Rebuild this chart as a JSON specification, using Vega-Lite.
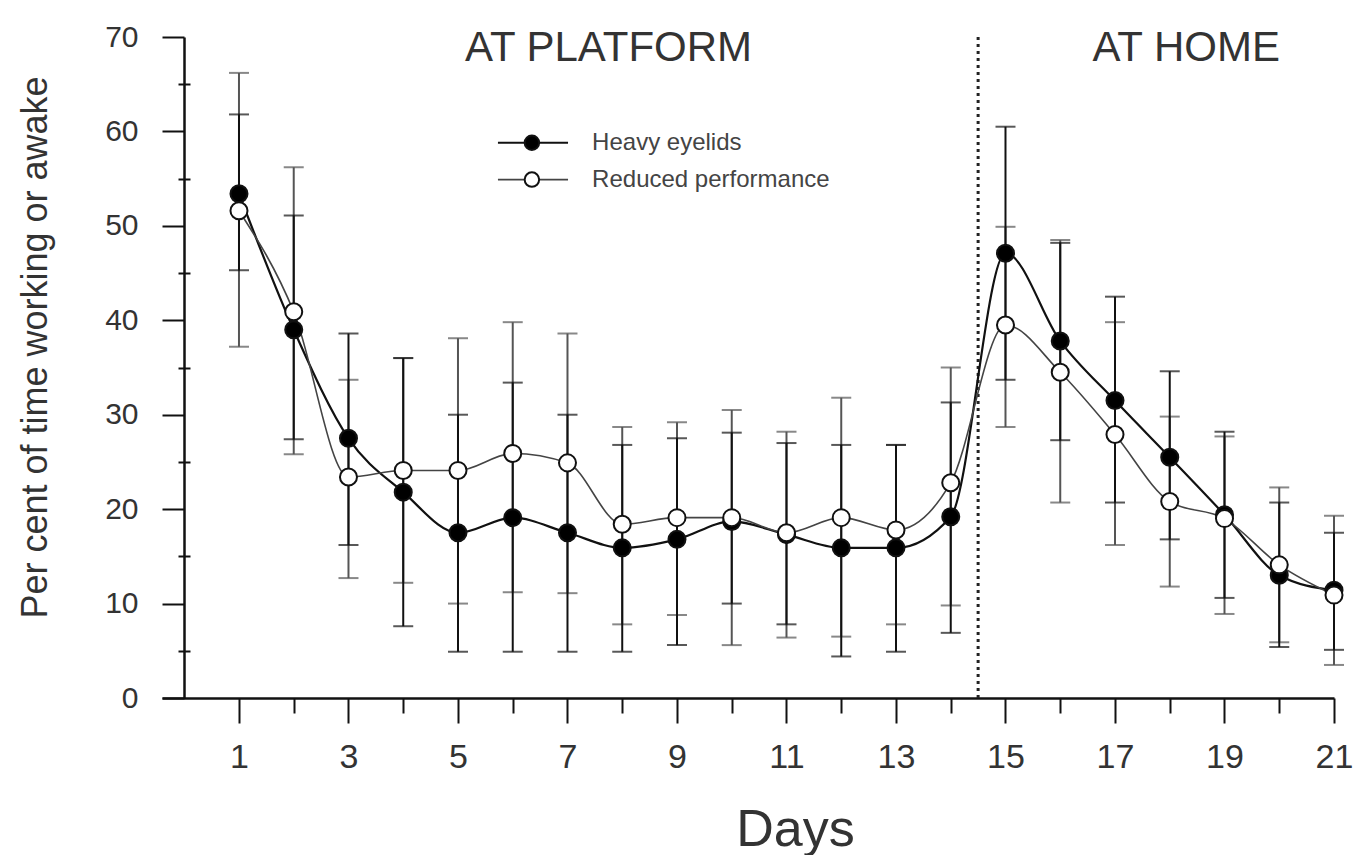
{
  "$schema": "https://vega.github.io/schema/vega-lite/v6.json",
  "width": 1172,
  "height": 661,
  "autosize": {"type": "none"},
  "padding": {"left": 162, "top": 37, "right": 19, "bottom": 157},
  "background": "white",
  "config": {"view": {"stroke": null}, "font": "Liberation Sans"},
  "datasets": {
    "obs": [
      {"day": 1, "series": "Heavy eyelids", "value": 53.4, "lo": 45.3, "hi": 61.8},
      {"day": 2, "series": "Heavy eyelids", "value": 39.0, "lo": 27.4, "hi": 51.1},
      {"day": 3, "series": "Heavy eyelids", "value": 27.5, "lo": 16.2, "hi": 38.6},
      {"day": 4, "series": "Heavy eyelids", "value": 21.8, "lo": 7.6, "hi": 36.0},
      {"day": 5, "series": "Heavy eyelids", "value": 17.5, "lo": 4.9, "hi": 30.0},
      {"day": 6, "series": "Heavy eyelids", "value": 19.1, "lo": 4.9, "hi": 33.4},
      {"day": 7, "series": "Heavy eyelids", "value": 17.5, "lo": 4.9, "hi": 30.0},
      {"day": 8, "series": "Heavy eyelids", "value": 15.9, "lo": 4.9, "hi": 26.8},
      {"day": 9, "series": "Heavy eyelids", "value": 16.8, "lo": 5.6, "hi": 27.5},
      {"day": 10, "series": "Heavy eyelids", "value": 18.7, "lo": 10.0, "hi": 28.1},
      {"day": 11, "series": "Heavy eyelids", "value": 17.3, "lo": 7.8, "hi": 27.0},
      {"day": 12, "series": "Heavy eyelids", "value": 15.9, "lo": 4.4, "hi": 26.8},
      {"day": 13, "series": "Heavy eyelids", "value": 15.9, "lo": 4.9, "hi": 26.8},
      {"day": 14, "series": "Heavy eyelids", "value": 19.2, "lo": 6.9, "hi": 31.3},
      {"day": 15, "series": "Heavy eyelids", "value": 47.1, "lo": 33.7, "hi": 60.5},
      {"day": 16, "series": "Heavy eyelids", "value": 37.8, "lo": 27.3, "hi": 48.2},
      {"day": 17, "series": "Heavy eyelids", "value": 31.5, "lo": 20.7, "hi": 42.5},
      {"day": 18, "series": "Heavy eyelids", "value": 25.5, "lo": 16.8, "hi": 34.6},
      {"day": 19, "series": "Heavy eyelids", "value": 19.4, "lo": 10.6, "hi": 28.2},
      {"day": 20, "series": "Heavy eyelids", "value": 13.0, "lo": 5.4, "hi": 20.7},
      {"day": 21, "series": "Heavy eyelids", "value": 11.4, "lo": 5.1, "hi": 17.5},
      {"day": 1, "series": "Reduced performance", "value": 51.6, "lo": 37.2, "hi": 66.2},
      {"day": 2, "series": "Reduced performance", "value": 40.9, "lo": 25.8, "hi": 56.2},
      {"day": 3, "series": "Reduced performance", "value": 23.4, "lo": 12.7, "hi": 33.7},
      {"day": 4, "series": "Reduced performance", "value": 24.1, "lo": 12.2, "hi": 36.0},
      {"day": 5, "series": "Reduced performance", "value": 24.1, "lo": 10.0, "hi": 38.1},
      {"day": 6, "series": "Reduced performance", "value": 25.9, "lo": 11.2, "hi": 39.8},
      {"day": 7, "series": "Reduced performance", "value": 24.9, "lo": 11.1, "hi": 38.6},
      {"day": 8, "series": "Reduced performance", "value": 18.4, "lo": 7.8, "hi": 28.7},
      {"day": 9, "series": "Reduced performance", "value": 19.1, "lo": 8.8, "hi": 29.2},
      {"day": 10, "series": "Reduced performance", "value": 19.1, "lo": 5.6, "hi": 30.5},
      {"day": 11, "series": "Reduced performance", "value": 17.5, "lo": 6.4, "hi": 28.2},
      {"day": 12, "series": "Reduced performance", "value": 19.1, "lo": 6.5, "hi": 31.8},
      {"day": 13, "series": "Reduced performance", "value": 17.8, "lo": 7.8, "hi": 26.8},
      {"day": 14, "series": "Reduced performance", "value": 22.8, "lo": 9.8, "hi": 35.0},
      {"day": 15, "series": "Reduced performance", "value": 39.5, "lo": 28.7, "hi": 49.9},
      {"day": 16, "series": "Reduced performance", "value": 34.5, "lo": 20.7, "hi": 48.5},
      {"day": 17, "series": "Reduced performance", "value": 27.9, "lo": 16.2, "hi": 39.8},
      {"day": 18, "series": "Reduced performance", "value": 20.8, "lo": 11.8, "hi": 29.8},
      {"day": 19, "series": "Reduced performance", "value": 19.0, "lo": 8.9, "hi": 27.7},
      {"day": 20, "series": "Reduced performance", "value": 14.1, "lo": 5.9, "hi": 22.3},
      {"day": 21, "series": "Reduced performance", "value": 10.9, "lo": 3.5, "hi": 19.3}
    ],
    "labels": [
      {"day": 7.75, "value": 68.8, "text": "AT PLATFORM"},
      {"day": 18.3, "value": 68.8, "text": "AT HOME"}
    ],
    "legend": [
      {"series": "Heavy eyelids"},
      {"series": "Reduced performance"}
    ],
    "divider": [{"day": 14.5, "bottom": 0, "top": 70}]
  },
  "resolve": {"axis": {"x": "independent", "y": "independent"}},
  "layer": [
    {
      "data": {"name": "divider"},
      "mark": {"type": "rule", "color": "#222", "strokeWidth": 3, "strokeDash": [3, 4]},
      "encoding": {
        "x": {"field": "day", "type": "quantitative", "scale": {"domain": [-0.406, 21], "nice": false, "zero": false}, "axis": null},
        "y": {"field": "bottom", "type": "quantitative", "scale": {"domain": [0, 70], "nice": false}, "axis": null},
        "y2": {"field": "top"}
      }
    },
    {
      "data": {"name": "obs"},
      "transform": [{"filter": "datum.series === 'Reduced performance'"}],
      "mark": {"type": "errorbar", "color": "#555", "thickness": 2, "ticks": {"size": 20, "thickness": 2}},
      "encoding": {
        "x": {"field": "day", "type": "quantitative", "axis": null},
        "y": {"field": "lo", "type": "quantitative", "axis": null},
        "y2": {"field": "hi"}
      }
    },
    {
      "data": {"name": "obs"},
      "transform": [{"filter": "datum.series === 'Heavy eyelids'"}],
      "mark": {"type": "errorbar", "color": "#111", "thickness": 2, "ticks": {"size": 20, "thickness": 2}},
      "encoding": {
        "x": {"field": "day", "type": "quantitative", "axis": null},
        "y": {"field": "lo", "type": "quantitative", "axis": null},
        "y2": {"field": "hi"}
      }
    },
    {
      "data": {"name": "obs"},
      "mark": {"type": "line", "interpolate": "monotone"},
      "encoding": {
        "x": {
          "field": "day",
          "type": "quantitative",
          "axis": {
            "orient": "bottom",
            "title": "Days",
            "titleX": 633,
            "titleAlign": "center",
            "values": [1, 3, 5, 7, 9, 11, 13, 15, 17, 19, 21],
            "tickSize": 25,
            "grid": false,
            "domainColor": "#111",
            "domainWidth": 2.5,
            "tickColor": "#111",
            "tickWidth": 2,
            "labelFontSize": 34,
            "labelColor": "#333",
            "labelPadding": 17,
            "labelFlush": false,
            "labelOverlap": false,
            "titleFontSize": 52,
            "titleFontWeight": "normal",
            "titleColor": "#333",
            "titlePadding": 30
          }
        },
        "y": {
          "field": "value",
          "type": "quantitative",
          "axis": {
            "orient": "left",
            "title": "Per cent of time working or awake",
            "titleY": 310,
            "titleAlign": "center",
            "offset": -22,
            "values": [0, 10, 20, 30, 40, 50, 60, 70],
            "tickSize": 22,
            "grid": false,
            "domainColor": "#111",
            "domainWidth": 2.5,
            "tickColor": "#111",
            "tickWidth": 2,
            "labelFontSize": 30,
            "labelColor": "#333",
            "labelPadding": 24,
            "labelOverlap": false,
            "labelFlush": false,
            "titleFontSize": 36,
            "titleFontWeight": "normal",
            "titleColor": "#333",
            "titlePadding": 50
          }
        },
        "stroke": {"field": "series", "type": "nominal", "scale": {"domain": ["Heavy eyelids", "Reduced performance"], "range": ["#111", "#444"]}, "legend": null},
        "strokeWidth": {"field": "series", "type": "nominal", "scale": {"domain": ["Heavy eyelids", "Reduced performance"], "range": [2.2, 1.6]}, "legend": null}
      }
    },
    {
      "data": {"name": "obs"},
      "mark": {"type": "point", "filled": true, "stroke": "#111", "strokeWidth": 2, "size": 290, "opacity": 1},
      "encoding": {
        "x": {
          "field": "day",
          "type": "quantitative",
          "axis": {
            "orient": "bottom",
            "title": null,
            "values": [2, 4, 6, 8, 10, 12, 14, 16, 18, 20],
            "tickSize": 15,
            "labels": false,
            "domain": false,
            "grid": false,
            "tickColor": "#111",
            "tickWidth": 2
          }
        },
        "y": {
          "field": "value",
          "type": "quantitative",
          "axis": {
            "orient": "left",
            "title": null,
            "offset": -28,
            "values": [5, 15, 25, 35, 45, 55, 65],
            "tickSize": 12,
            "labels": false,
            "domain": false,
            "grid": false,
            "tickColor": "#111",
            "tickWidth": 2
          }
        },
        "fill": {
          "field": "series",
          "type": "nominal",
          "scale": {"domain": ["Heavy eyelids", "Reduced performance"], "range": ["#000", "#fff"]},
          "legend": null
        }
      }
    },
    {
      "data": {"name": "labels"},
      "mark": {"type": "text", "fontSize": 42, "color": "#333", "font": "Liberation Sans", "align": "center", "baseline": "middle"},
      "encoding": {
        "x": {"field": "day", "type": "quantitative", "axis": null},
        "y": {"field": "value", "type": "quantitative", "axis": null},
        "text": {"field": "text", "type": "nominal"}
      }
    },
    {
      "data": {"name": "legend"},
      "transform": [{"filter": "datum.series === 'Heavy eyelids'"}],
      "layer": [
        {
          "mark": {"type": "rule", "color": "#111", "strokeWidth": 2},
          "encoding": {
            "x": {"datum": 5.73, "type": "quantitative", "axis": null},
            "x2": {"datum": 7.01},
            "y": {"datum": 58.8, "type": "quantitative", "axis": null}
          }
        },
        {
          "mark": {"type": "point", "filled": true, "fill": "#000", "stroke": "#111", "strokeWidth": 2, "size": 210, "opacity": 1},
          "encoding": {
            "x": {"datum": 6.35, "type": "quantitative", "axis": null},
            "y": {"datum": 58.8, "type": "quantitative", "axis": null}
          }
        },
        {
          "mark": {"type": "text", "align": "left", "baseline": "middle", "fontSize": 24, "color": "#444", "font": "Liberation Sans"},
          "encoding": {
            "x": {"datum": 7.45, "type": "quantitative", "axis": null},
            "y": {"datum": 58.8, "type": "quantitative", "axis": null},
            "text": {"field": "series", "type": "nominal"}
          }
        }
      ]
    },
    {
      "data": {"name": "legend"},
      "transform": [{"filter": "datum.series === 'Reduced performance'"}],
      "layer": [
        {
          "mark": {"type": "rule", "color": "#444", "strokeWidth": 1.6},
          "encoding": {
            "x": {"datum": 5.73, "type": "quantitative", "axis": null},
            "x2": {"datum": 7.01},
            "y": {"datum": 54.9, "type": "quantitative", "axis": null}
          }
        },
        {
          "mark": {"type": "point", "filled": true, "fill": "#fff", "stroke": "#111", "strokeWidth": 2, "size": 210, "opacity": 1},
          "encoding": {
            "x": {"datum": 6.35, "type": "quantitative", "axis": null},
            "y": {"datum": 54.9, "type": "quantitative", "axis": null}
          }
        },
        {
          "mark": {"type": "text", "align": "left", "baseline": "middle", "fontSize": 24, "color": "#444", "font": "Liberation Sans"},
          "encoding": {
            "x": {"datum": 7.45, "type": "quantitative", "axis": null},
            "y": {"datum": 54.9, "type": "quantitative", "axis": null},
            "text": {"field": "series", "type": "nominal"}
          }
        }
      ]
    }
  ]
}
